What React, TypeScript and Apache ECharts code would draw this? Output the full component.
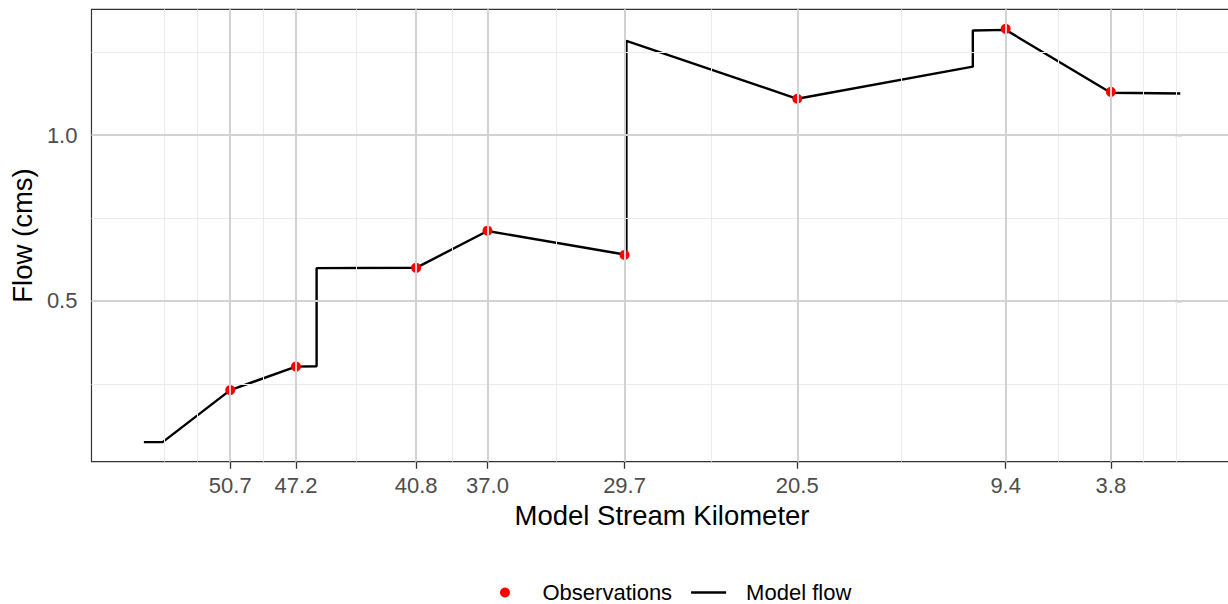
import React, { useEffect, useRef } from "react";
import * as echarts from "echarts";

// Observations (km, flow)
const obsKm = [50.7, 47.2, 40.8, 37.0, 29.7, 20.5, 9.4, 3.8];
const obsFlow = [0.231, 0.302, 0.6, 0.712, 0.639, 1.11, 1.321, 1.131];

// Model flow line (km, flow)
const modelKm = [55.3, 54.3, 50.7, 47.2, 46.1, 46.1, 40.8, 37.0, 29.7, 29.6, 29.6, 20.5, 11.15, 11.15, 9.4, 3.8, 0.1];
const modelFlow = [0.074, 0.074, 0.231, 0.302, 0.303, 0.599, 0.6, 0.711, 0.64, 0.64, 1.285, 1.11, 1.207, 1.316, 1.318, 1.128, 1.126];

// Axis breaks
const xBreaks = [50.7, 47.2, 40.8, 37.0, 29.7, 20.5, 9.4, 3.8];
const xMinorBreaks = [54.2, 52.45, 48.95, 44.0, 38.9, 33.35, 25.1, 14.95, 6.6, 2.05, 0.3];
const yBreaks = [0.5, 1.0];
const yMinorBreaks = [0.25, 0.75, 1.25];

const FONT = "'Liberation Sans', Arial, sans-serif";

export default function App() {
  const ref = useRef<HTMLDivElement>(null);
  useEffect(() => {
    if (!ref.current) return;
    const chart = echarts.init(ref.current, null, { renderer: "svg" });
    const majorStyle = { color: "#D2D2D2", width: 2, type: "solid" as const };
    const minorStyle = { color: "#EBEBEB", width: 1, type: "solid" as const };
    const gridLines = [
      ...xMinorBreaks.map((v) => ({ xAxis: v, lineStyle: minorStyle })),
      ...yMinorBreaks.map((v) => ({ yAxis: v, lineStyle: minorStyle })),
      ...xBreaks.map((v) => ({ xAxis: v, lineStyle: majorStyle })),
      ...yBreaks.map((v) => ({ yAxis: v, lineStyle: majorStyle })),
    ];
    chart.setOption({
      animation: false,
      backgroundColor: "#FFFFFF",
      textStyle: { fontFamily: FONT },
      grid: {
        left: 90,
        top: 9.3,
        width: 1142.5,
        height: 452.4,
        show: true,
        borderColor: "#333333",
        borderWidth: 1.2,
        backgroundColor: "transparent",
      },
      legend: {
        data: [
          { name: "Observations" },
          { name: "Model flow", icon: "path://M0,0 L35,0 L35,2.4 L0,2.4 Z" },
        ],
        left: 495,
        top: 575.5,
        itemWidth: 35,
        itemHeight: 10,
        itemGap: 19,
        textStyle: {
          fontSize: 22,
          color: "#000000",
          fontFamily: FONT,
          padding: [0, 0, 0, 15],
          lineHeight: 24,
        },
      },
      xAxis: {
        type: "value",
        inverse: true,
        min: -2.68,
        max: 58.09,
        name: "Model Stream Kilometer",
        nameLocation: "middle",
        nameGap: 37.6,
        nameTextStyle: { fontSize: 27.5, color: "#000000", fontFamily: FONT, lineHeight: 28 },
        axisLine: { show: false },
        axisTick: {
          show: true,
          length: 7,
          customValues: xBreaks,
          lineStyle: { color: "#333333", width: 1.3 },
        },
        axisLabel: {
          customValues: xBreaks,
          margin: 12.6,
          fontSize: 22,
          lineHeight: 22,
          color: "#4D4D4D",
          fontFamily: FONT,
          formatter: (v: number) => v.toFixed(1),
        },
        splitLine: { show: false },
      },
      yAxis: {
        type: "value",
        min: 0.015,
        max: 1.38,
        name: "Flow (cms)",
        nameLocation: "middle",
        nameGap: 52.2,
        nameRotate: 90,
        nameTextStyle: { fontSize: 27.5, color: "#000000", fontFamily: FONT, lineHeight: 28 },
        axisLine: { show: false },
        axisTick: {
          show: true,
          length: 7,
          customValues: yBreaks,
          lineStyle: { color: "#333333", width: 1.3 },
        },
        axisLabel: {
          customValues: yBreaks,
          margin: 14,
          fontSize: 22,
          color: "#4D4D4D",
          fontFamily: FONT,
          formatter: (v: number) => v.toFixed(1),
        },
        splitLine: { show: false },
      },
      series: [
        {
          type: "line",
          data: [],
          z: 1,
          silent: true,
          markLine: {
            silent: true,
            symbol: ["none", "none"],
            label: { show: false },
            emphasis: { disabled: true },
            animation: false,
            data: gridLines,
          },
        },
        {
          name: "Model flow",
          type: "line",
          z: 3,
          data: modelKm.map((k, i) => [k, modelFlow[i]]),
          showSymbol: false,
          symbol: "none",
          lineStyle: { color: "#000000", width: 2.4 },
          itemStyle: { color: "#000000" },
        },
        {
          name: "Observations",
          type: "scatter",
          z: 4,
          data: obsKm.map((k, i) => [k, obsFlow[i]]),
          symbol: "circle",
          symbolSize: 10,
          itemStyle: { color: "#FF0000", opacity: 1 },
        },
      ],
    });
    return () => chart.dispose();
  }, []);
  return (
    <div
      ref={ref}
      style={{ position: "fixed", left: 0, top: 0, width: 1240, height: 604, background: "#fff" }}
    />
  );
}
